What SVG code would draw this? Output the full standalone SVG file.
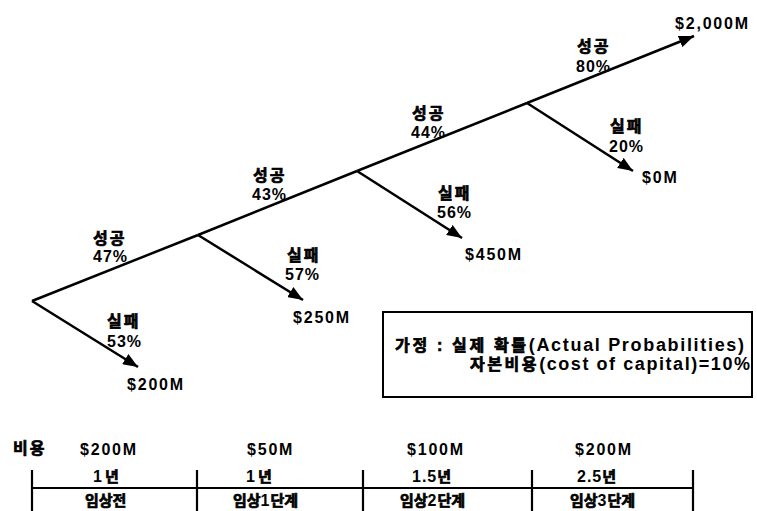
<svg xmlns="http://www.w3.org/2000/svg" width="757" height="511" viewBox="0 0 757 511">
<style>
text{font-family:"Liberation Sans","Noto Sans CJK KR",sans-serif;font-weight:bold;font-size:16px;fill:#000;letter-spacing:1px}
.m{letter-spacing:1.8px}
.k{font-size:16px;letter-spacing:2px;stroke:#000;stroke-width:0.7px}
.t{font-size:15px;letter-spacing:0px;stroke:#000;stroke-width:0.7px}
.b{font-size:18px}
.edge{stroke:#000;stroke-width:2.5;fill:none}
.tl{stroke:#000;stroke-width:2.2;fill:none}
</style>
<defs>
<marker id="arr" markerUnits="userSpaceOnUse" markerWidth="16" markerHeight="12" refX="15" refY="6" orient="auto">
<path d="M0,0 L15,6 L0,12 z" fill="#000"/>
</marker>
</defs>
<rect width="757" height="511" fill="#fff"/>
<g id="connectors">
<path class="edge" d="M32,301 L198,235"/>
<path class="edge" d="M198,235 L357,171"/>
<path class="edge" d="M357,171 L527,103"/>
<path class="edge" d="M527,103 L694,36" marker-end="url(#arr)"/>
<path class="edge" d="M32,301 L138,367" marker-end="url(#arr)"/>
<path class="edge" d="M198,235 L303,300" marker-end="url(#arr)"/>
<path class="edge" d="M357,171 L462,238" marker-end="url(#arr)"/>
<path class="edge" d="M527,103 L633,171" marker-end="url(#arr)"/>
</g>
<g id="end-success"><text class="m" x="675" y="29">$2,000M</text></g>
<g id="s1"><text class="k" x="93" y="244">성공</text><text x="93" y="262">47%</text></g>
<g id="s2"><text class="k" x="253" y="181">성공</text><text x="252" y="200">43%</text></g>
<g id="s3"><text class="k" x="412" y="119">성공</text><text x="411" y="138">44%</text></g>
<g id="s4"><text class="k" x="577" y="52">성공</text><text x="576" y="72">80%</text></g>
<g id="f1"><text class="k" x="107" y="327">실패</text><text x="107" y="347">53%</text><text class="m" x="127" y="390">$200M</text></g>
<g id="f2"><text class="k" x="287" y="261">실패</text><text x="285" y="280">57%</text><text class="m" x="293" y="323">$250M</text></g>
<g id="f3"><text class="k" x="438" y="199">실패</text><text x="437" y="218">56%</text><text class="m" x="465" y="260">$450M</text></g>
<g id="f4"><text class="k" x="610" y="132">실패</text><text x="609" y="152">20%</text><text class="m" x="642" y="183">$0M</text></g>
<g id="assumption">
<rect x="383" y="312" width="369" height="85" fill="none" stroke="#000" stroke-width="2"/>
<text class="b" x="395" y="351" textLength="350" lengthAdjust="spacing"><tspan class="k">가정 : 실제 확률</tspan>(Actual Probabilities)</text>
<text class="b" x="470" y="370" textLength="281" lengthAdjust="spacing"><tspan class="k">자본비용</tspan>(cost of capital)=10%</text>
</g>
<g id="timeline">
<path class="tl" d="M32,488 L693,488 M32,470 L32,511 M197,470 L197,511 M363,470 L363,511 M532,470 L532,511 M693,470 L693,511"/>
<text class="k" x="13" y="454">비용</text>
<text class="m" x="80" y="455">$200M</text>
<text class="m" x="247" y="455">$50M</text>
<text class="m" x="407" y="455">$100M</text>
<text class="m" x="575" y="455">$200M</text>
<text x="93" y="482"><tspan>1</tspan><tspan class="t" dx="2">년</tspan></text>
<text x="246" y="482"><tspan>1</tspan><tspan class="t" dx="2">년</tspan></text>
<text x="412" y="482"><tspan>1.5</tspan><tspan class="t">년</tspan></text>
<text x="577" y="482"><tspan>2.5</tspan><tspan class="t">년</tspan></text>
<text class="t" x="85" y="506">임상전</text>
<text x="233" y="506"><tspan class="t">임상</tspan>1<tspan class="t">단계</tspan></text>
<text x="400" y="506"><tspan class="t">임상</tspan>2<tspan class="t">단계</tspan></text>
<text x="570" y="506"><tspan class="t">임상</tspan>3<tspan class="t">단계</tspan></text>
</g>
</svg>
